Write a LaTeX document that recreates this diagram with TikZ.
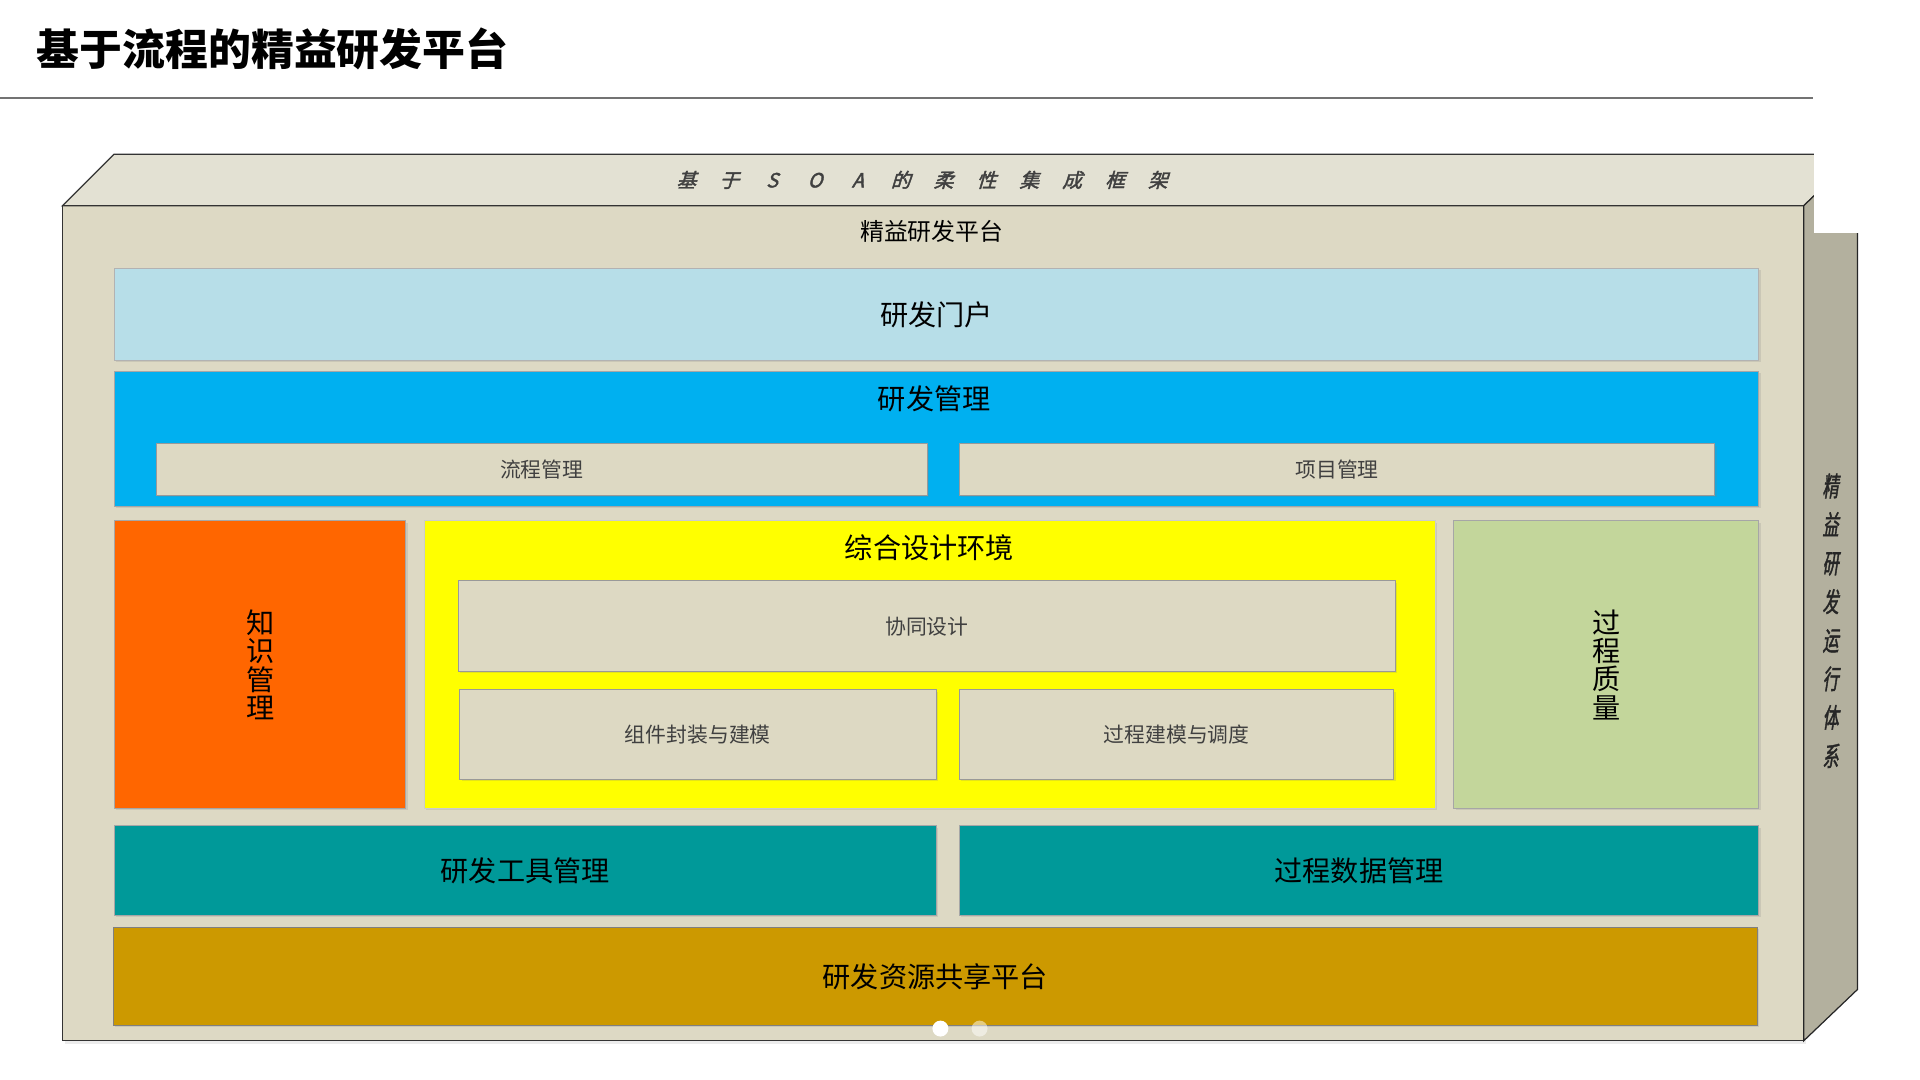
\documentclass[tikz,border=0pt]{standalone}
\usepackage{fontspec}
\setmainfont{Noto Sans CJK SC}
\newfontfamily\cjkit[FakeSlant=0.3,FakeBold=2]{Noto Sans CJK SC}
\newfontfamily\cjkside[FakeSlant=0.15,FakeBold=1.5,FakeStretch=0.6]{Noto Sans CJK SC}
\usetikzlibrary{shadows}
\definecolor{topc}{HTML}{E3E1D3}
\definecolor{frontc}{HTML}{DDD9C4}
\definecolor{sidec}{HTML}{B3B09E}
\definecolor{portalc}{HTML}{B7DEE8}
\definecolor{mgmtc}{HTML}{00B0F0}
\definecolor{knowc}{HTML}{FF6600}
\definecolor{envc}{HTML}{FFFF00}
\definecolor{qualc}{HTML}{C3D69B}
\definecolor{tealc}{HTML}{009999}
\definecolor{goldc}{HTML}{CC9900}
\definecolor{subc}{HTML}{DDD9C3}
\newcommand\spacedchar[1]{\makebox[35pt]{#1}}
\begin{document}
\begin{tikzpicture}[x=1pt,y=-1pt,
  blk/.style={rectangle,inner sep=0pt,anchor=north west,line width=0.8pt,draw=black!35,
    align=center,font=\fontsize{23}{23}\selectfont,text=black,
    drop shadow={opacity=0.2,shadow xshift=1.5pt,shadow yshift=-1.5pt}},
  subblk/.style={blk,fill=subc,draw=black!40,font=\fontsize{17}{17}\selectfont,text=black!75},
  lbl/.style={inner sep=0pt,font=\fontsize{23}{23}\selectfont,text=black}]
\fill[white] (0,0) rectangle (1568,882);
\useasboundingbox (0,0) rectangle (1568,882);
% title
\node[anchor=west,inner sep=0pt,font=\fontsize{35}{35}\selectfont\bfseries] (title) at (30,40) {基于流程的精益研发平台};
\draw[black!55,line width=1pt] (0,80) -- (1481,80);
% 3D frame
\filldraw[fill=frontc,draw=black!80,line width=1pt,drop shadow={opacity=0.15,shadow xshift=2pt,shadow yshift=-3pt}] (51,168) rectangle (1473,850);
\filldraw[fill=topc,draw=black!80,line width=1pt] (51,168) -- (93,126) -- (1517,126) -- (1473,168) -- cycle;
\filldraw[fill=sidec,draw=black!85,line width=1pt] (1473,168) -- (1517,126) -- (1517,808) -- (1473,850) -- cycle;
\fill[white] (1481.5,0) rectangle (1568,190);
\node[font=\cjkit\fontsize{16}{16}\selectfont,text=black!75,inner sep=0pt] (soa) at (753,147)
  {\spacedchar{基}\spacedchar{于}\spacedchar{S}\spacedchar{O}\spacedchar{A}\spacedchar{的}\spacedchar{柔}\spacedchar{性}\spacedchar{集}\spacedchar{成}\spacedchar{框}\spacedchar{架}};
\node[inner sep=0pt,font=\fontsize{19.5}{20}\selectfont] (plat) at (761,189) {精益研发平台};
\node[align=center,inner sep=0pt,font=\cjkside\fontsize{22}{31.5}\selectfont,text=black!85] (side) at (1495,507) {精\\益\\研\\发\\运\\行\\体\\系};
% blocks
\node[blk,fill=portalc,draw=black!30,minimum width=1343pt,minimum height=75pt] (portal) at (93,219) {研发门户};
\node[blk,fill=mgmtc,minimum width=1343pt,minimum height=110pt] (mgmt) at (93,303) {};
\node[lbl] (mgmtt) at (763,326) {研发管理};
\node[subblk,minimum width=630pt,minimum height=42pt] (flow) at (127,362) {流程管理};
\node[subblk,minimum width=617pt,minimum height=42pt] (proj) at (783,362) {项目管理};
\node[blk,fill=knowc,minimum width=238pt,minimum height=235pt] (know) at (93,425) {知\\识\\管\\理};
\node[blk,fill=envc,draw=black!20,minimum width=826pt,minimum height=235pt] (env) at (346,425) {};
\node[lbl] (envt) at (759,447) {综合设计环境};
\node[subblk,minimum width=765pt,minimum height=74pt] (collab) at (374,474) {协同设计};
\node[subblk,minimum width=389pt,minimum height=73pt] (comp) at (375,563) {组件封装与建模};
\node[subblk,minimum width=355pt,minimum height=73pt] (proc) at (783,563) {过程建模与调度};
\node[blk,fill=qualc,minimum width=249pt,minimum height=235pt] (qual) at (1187,425) {过\\程\\质\\量};
\node[blk,fill=tealc,minimum width=671pt,minimum height=73pt] (tool) at (93,674) {研发工具管理};
\node[blk,fill=tealc,minimum width=653pt,minimum height=73pt] (data) at (783,674) {过程数据管理};
\node[blk,fill=goldc,draw=black!50,minimum width=1343pt,minimum height=80pt] (share) at (92,757) {研发资源共享平台};
% carousel dots
\node[circle,fill=white,minimum size=13pt,inner sep=0pt] (dot1) at (768,840) {};
\node[circle,fill=white,fill opacity=0.5,minimum size=13pt,inner sep=0pt] (dot2) at (800,840) {};
\end{tikzpicture}
\end{document}
